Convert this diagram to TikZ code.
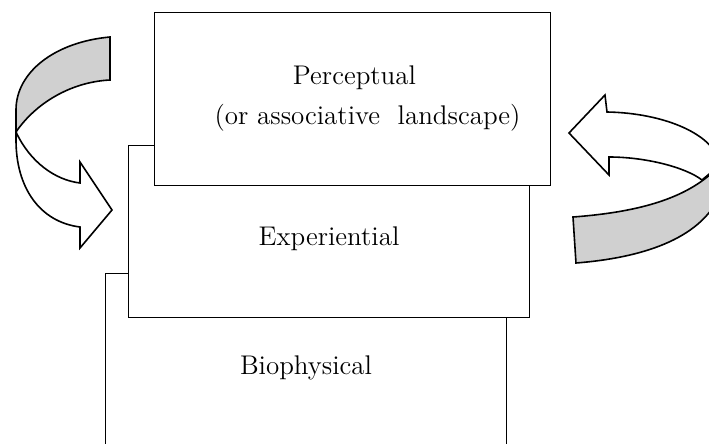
\documentclass[tikz,border=0pt]{standalone}
\usetikzlibrary{positioning}
\definecolor{bandgray}{RGB}{208,208,208}
\tikzset{
  layer/.style={draw,fill=white,line width=0.5pt,anchor=north west,inner sep=0pt},
  layertext/.style={inner sep=0pt,font=\fontsize{13.5}{20}\selectfont},
  turn/.style={draw,line width=0.8pt,line join=miter},
}

\begin{document}
\begin{tikzpicture}[x=0.5pt,y=-0.5pt]
\clip (0,0) rectangle (709,444);
% layers, back to front
\node[layer,minimum width=200.5pt,minimum height=100pt] (bio) at (105,273) {};
\node[layer,minimum width=200.5pt,minimum height=86pt] (exp) at (128,145) {};
\node[layer,minimum width=198pt,minimum height=86.5pt] (per) at (154,12) {};
\node[layertext,anchor=base] (biotxt) at ([yshift=-51pt]bio.north) {Biophysical};
\node[layertext,anchor=base] (exptxt) at ([yshift=-50.5pt]exp.north) {Experiential};
\node[layertext,align=center] (pertxt) at ([xshift=1pt,yshift=-43.5pt]per.north)
  {Perceptual\\ \hspace*{13pt}(or associative\ \ landscape)};
% left turn
\filldraw[turn,fill=bandgray] (110,37) .. controls (55,42) and (16,72) .. (16,110)
  -- (16,132) .. controls (35,104) and (70,82) .. (110,80) -- cycle;
\filldraw[turn,fill=white] (16,132) .. controls (30,162) and (55,180) .. (80,183)
  -- (80,162) -- (112,210) -- (80,248) -- (80,227)
  .. controls (40,222) and (16,188) .. (16,140) -- cycle;
% right turn
\filldraw[turn,fill=white] (609,157) .. controls (645,157) and (685,167) .. (702,180)
  -- (720,165) .. controls (716,135) and (665,113) .. (607,112)
  -- (605,95) -- (569,133) -- (609,175) -- cycle;
\filldraw[turn,fill=bandgray] (573,217) .. controls (640,212) and (690,198) .. (720,165)
  -- (720,195) .. controls (700,240) and (640,258) .. (576,263) -- cycle;
\end{tikzpicture}
\end{document}
